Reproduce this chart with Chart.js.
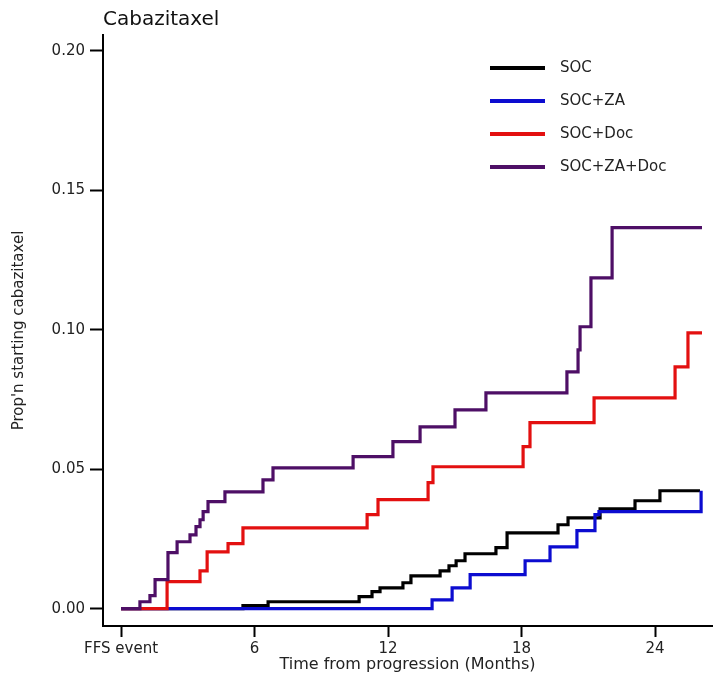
<!DOCTYPE html>
<html>
<head>
<meta charset="utf-8">
<script src="https://cdn.jsdelivr.net/npm/chart.js@4.4.1/dist/chart.umd.min.js"></script>
<style>
    html, body { margin: 0; padding: 0; background: #fff; }
</style>
</head>
<body>
<canvas id="chart" width="714" height="678"></canvas>
<script>
    // cumulative proportion starting cabazitaxel
    const socTime = [0, 5.48, 6.61, 10.70, 11.28, 11.64, 12.67, 13.03, 14.34, 14.74, 15.06, 15.46, 16.85, 17.35, 19.64, 20.09, 21.53, 23.10, 24.22, 26.02];
    const socProp = [0, 0.0011, 0.0025, 0.0043, 0.0061, 0.0075, 0.0093, 0.0118, 0.0136, 0.0154, 0.0172, 0.0197, 0.0219, 0.0272, 0.0301, 0.0326, 0.0358, 0.0387, 0.0423, 0.0423];

    const zaTime = [0, 13.98, 14.88, 15.69, 18.16, 19.28, 20.49, 21.30, 21.48, 26.07];
    const zaProp = [0, 0.0032, 0.0075, 0.0122, 0.0172, 0.0222, 0.0280, 0.0337, 0.0348, 0.0423];

    const docTime = [0, 2.07, 3.55, 3.87, 4.81, 5.48, 11.06, 11.55, 13.80, 14.02, 18.07, 18.38, 21.26, 24.90, 25.48, 26.11];
    const docProp = [0, 0.0097, 0.0136, 0.0204, 0.0233, 0.0290, 0.0337, 0.0391, 0.0452, 0.0509, 0.0581, 0.0667, 0.0756, 0.0867, 0.0989, 0.0989];

    const zaDocTime = [0, 0.85, 1.30, 1.53, 2.11, 2.52, 3.10, 3.37, 3.55, 3.69, 3.91, 4.67, 6.38, 6.83, 10.43, 12.22, 13.44, 15.01, 16.40, 20.04, 20.54, 20.63, 21.12, 22.07, 26.11];
    const zaDocProp = [0, 0.0025, 0.0047, 0.0104, 0.0201, 0.0240, 0.0265, 0.0294, 0.0319, 0.0348, 0.0384, 0.0419, 0.0462, 0.0505, 0.0545, 0.0599, 0.0652, 0.0713, 0.0774, 0.0849, 0.0928, 0.1011, 0.1186, 0.1366, 0.1366];

    const seriesNames = ['SOC', 'SOC+ZA', 'SOC+Doc', 'SOC+ZA+Doc'];
    const seriesColors = ['#000000', '#0c0cd0', '#e31010', '#4e0f66'];
    const xTicks = [0, 6, 12, 18, 24];
    const xTickLabels = ['FFS event', '6', '12', '18', '24'];
    const yTicks = [0, 0.05, 0.10, 0.15, 0.20];

    const FONT = 'DejaVu Sans';
    const series = [[socTime, socProp], [zaTime, zaProp], [docTime, docProp], [zaDocTime, zaDocProp]];

    const datasets = series.map(([t, p], i) => ({
        label: seriesNames[i],
        data: t.map((x, j) => ({ x: x, y: p[j] })),
        borderColor: seriesColors[i],
        borderWidth: 3.2,
        stepped: 'before',
        pointRadius: 0,
        fill: false,
        order: 3 - i
    }));

    // legend drawn as a vertical list inside the plot, like the original
    const sideLegend = {
        id: 'sideLegend',
        afterDraw(chart) {
            const ctx = chart.ctx;
            ctx.save();
            ctx.font = '15px "' + FONT + '"';
            ctx.textBaseline = 'middle';
            chart.data.datasets.forEach((ds, i) => {
                const y = 68 + i * 33;
                ctx.strokeStyle = ds.borderColor;
                ctx.lineWidth = 4;
                ctx.beginPath();
                ctx.moveTo(490, y);
                ctx.lineTo(545, y);
                ctx.stroke();
                ctx.fillStyle = '#222';
                ctx.fillText(ds.label, 560, y);
            });
            ctx.restore();
        }
    };

    new Chart(document.getElementById('chart'), {
        type: 'line',
        data: { datasets: datasets },
        options: {
            responsive: false,
            animation: false,
            layout: { padding: { left: 0, right: 2, top: 0, bottom: 0 } },
            scales: {
                x: {
                    type: 'linear',
                    min: -0.81,
                    max: 26.56,
                    afterFit: s => { s.height = 52; },
                    afterBuildTicks: s => { s.ticks = xTicks.map(v => ({ value: v })); },
                    border: { display: true, color: '#000', width: 2 },
                    grid: { display: true, drawOnChartArea: false, drawTicks: true, tickLength: 11, tickWidth: 2, tickColor: '#000' },
                    ticks: {
                        color: '#222',
                        font: { family: FONT, size: 15 },
                        padding: 3,
                        maxRotation: 0,
                        callback: v => xTickLabels[xTicks.indexOf(v)]
                    },
                    title: {
                        display: true,
                        text: 'Time from progression (Months)',
                        color: '#222',
                        font: { family: FONT, size: 16 },
                        padding: { top: 0, bottom: 4 }
                    }
                },
                y: {
                    min: -0.0062,
                    max: 0.2057,
                    afterFit: s => { s.width = 103; },
                    afterBuildTicks: s => { s.ticks = yTicks.map(v => ({ value: v })); },
                    border: { display: true, color: '#000', width: 2 },
                    grid: { display: true, drawOnChartArea: false, drawTicks: true, tickLength: 13, tickWidth: 2, tickColor: '#000' },
                    ticks: {
                        color: '#222',
                        font: { family: FONT, size: 15 },
                        padding: 5,
                        callback: v => v.toFixed(2)
                    },
                    title: {
                        display: true,
                        text: "Prop'n starting cabazitaxel",
                        color: '#222',
                        font: { family: FONT, size: 15 },
                        padding: { top: 10, bottom: 0 }
                    }
                }
            },
            plugins: {
                legend: { display: false },
                tooltip: { enabled: false },
                title: {
                    display: true,
                    text: 'Cabazitaxel',
                    align: 'start',
                    fullSize: false,
                    color: '#111',
                    font: { family: FONT, size: 20, weight: 'normal' },
                    padding: { top: 8, bottom: 3 }
                }
            }
        },
        plugins: [sideLegend]
    });
</script>
</body>
</html>
